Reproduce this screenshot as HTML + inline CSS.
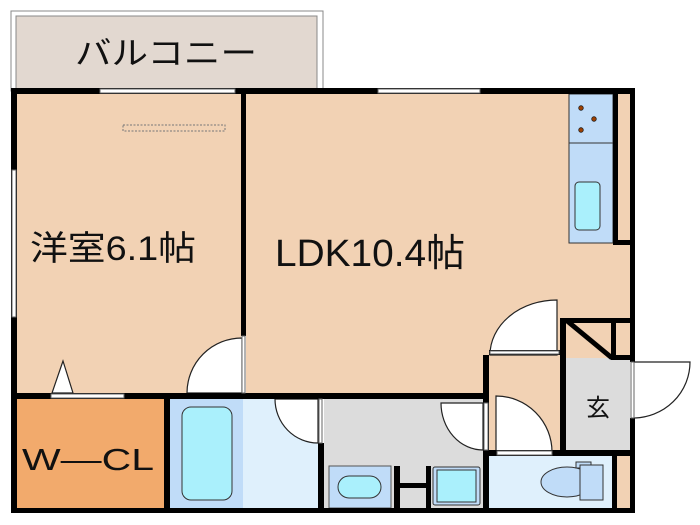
<!DOCTYPE html>
<html><head><meta charset="utf-8"><style>
html,body{margin:0;padding:0;background:#fff;width:700px;height:525px;overflow:hidden}
text{font-family:"Liberation Sans","Noto Sans CJK JP",sans-serif;fill:#111}
</style></head><body>
<svg width="700" height="525" viewBox="0 0 700 525" xmlns="http://www.w3.org/2000/svg">
<!-- balcony -->
<rect x="11" y="11" width="312" height="80" fill="#fff" stroke="#888" stroke-width="1"/>
<rect x="16" y="16" width="301" height="74" fill="#e2d8d0" stroke="#888" stroke-width="1"/>
<text x="75" y="64" font-size="32" textLength="182" lengthAdjust="spacingAndGlyphs">バルコニー</text>
<!-- room fills -->
<rect x="17" y="94" width="224" height="299" fill="#f2d2b4"/>
<rect x="246" y="94" width="384" height="299" fill="#f2d2b4"/>
<rect x="488" y="355" width="72" height="100" fill="#f2d2b4"/>
<rect x="565" y="323" width="65" height="35" fill="#f2d2b4"/>
<rect x="565" y="358" width="65" height="92" fill="#dcdcdc"/>
<rect x="617" y="456" width="13" height="52" fill="#f2d2b4"/>
<rect x="17" y="399" width="147" height="109" fill="#f2aa6c"/>
<rect x="170" y="399" width="73" height="109" fill="#c0dcf8"/>
<rect x="243" y="399" width="75" height="109" fill="#dff0fc"/>
<rect x="324" y="399" width="159" height="109" fill="#dcdcdc"/>
<rect x="488" y="456" width="124" height="52" fill="#dff0fc"/>
<!-- kitchen -->
<rect x="569" y="94" width="44" height="149" fill="#c0dcf8" stroke="#333" stroke-width="1"/>
<line x1="569" y1="143" x2="613" y2="143" stroke="#333" stroke-width="1"/>
<circle cx="581" cy="108" r="2.3" fill="#a04000" stroke="#222" stroke-width="0.8"/>
<circle cx="594" cy="119" r="2.3" fill="#a04000" stroke="#222" stroke-width="0.8"/>
<circle cx="581" cy="130" r="2.3" fill="#a04000" stroke="#222" stroke-width="0.8"/>
<rect x="575" y="182" width="25" height="48" rx="4" fill="#aaf0fc" stroke="#333" stroke-width="1"/>
<!-- bath/wash fixtures -->
<rect x="182" y="407" width="50" height="93" rx="9" fill="#aaf0fc" stroke="#333" stroke-width="1"/>
<rect x="329" y="466" width="62" height="42" fill="#c0dcf8" stroke="#555" stroke-width="1"/>
<rect x="338" y="476" width="43" height="22" rx="11" fill="#aaf0fc" stroke="#333" stroke-width="1"/>
<rect x="394" y="466" width="6" height="42" fill="#000"/>
<rect x="426" y="466" width="5" height="42" fill="#000"/>
<rect x="400" y="483" width="26" height="5" fill="#000"/>
<rect x="433" y="467" width="47" height="38" rx="2" fill="#c0dcf8" stroke="#333" stroke-width="1"/>
<rect x="437" y="470" width="39" height="32" fill="#aaf0fc" stroke="#333" stroke-width="1"/>
<!-- toilet -->
<ellipse cx="567" cy="482" rx="26" ry="15" fill="#c0dcf8" stroke="#333" stroke-width="1"/>
<rect x="576" y="462" width="15" height="6" fill="#c0dcf8" stroke="#333" stroke-width="1"/>
<rect x="580" y="465" width="23" height="35" fill="#c0dcf8" stroke="#333" stroke-width="1"/>
<!-- doors -->
<g fill="#fff" stroke="#222" stroke-width="1.2">
<path d="M242 393 L242 338 A55 55 0 0 0 187 393 Z"/>
<path d="M318 399 L275 399 A43 44 0 0 0 318 443 Z"/>
<path d="M483 403 L441 403 A42 47 0 0 0 483 450 Z"/>
<path d="M557 355 L557 300 A67 55 0 0 0 490 355 Z"/>
<path d="M496 452 L496 396 A56 56 0 0 1 552 452 Z"/>
<path d="M633 362 L690 362 A57 56 0 0 1 633 418 Z"/>
<polygon points="63,361 52,393 73,393"/>
</g>
<rect x="123" y="125" width="102" height="6" fill="none" stroke="#777" stroke-width="1" stroke-dasharray="2,1.5"/>
<!-- walls -->
<g fill="#000">
<rect x="11" y="88" width="624" height="6"/>
<rect x="11" y="88" width="6" height="425"/>
<rect x="241" y="88" width="5" height="248"/>
<rect x="11" y="393" width="477" height="6"/>
<rect x="483" y="355" width="6" height="158"/>
<rect x="11" y="508" width="624" height="5"/>
<rect x="164" y="399" width="6" height="109"/>
<rect x="318" y="443" width="6" height="65"/>
<rect x="560" y="318" width="6" height="138"/>
<rect x="560" y="318" width="75" height="5"/>
<rect x="611" y="318" width="5" height="42"/>
<rect x="611" y="355" width="24" height="5"/>
<rect x="483" y="450" width="152" height="6"/>
<rect x="612" y="450" width="5" height="63"/>
<rect x="613" y="88" width="5" height="157"/>
<rect x="613" y="240" width="22" height="5"/>
<rect x="630" y="88" width="5" height="274"/>
<rect x="630" y="418" width="5" height="95"/>
<rect x="489" y="350" width="71" height="5"/>
</g>
<line x1="566" y1="320" x2="612" y2="358" stroke="#000" stroke-width="5"/>
<!-- windows / openings -->
<g fill="#fff" stroke="#666" stroke-width="1">
<rect x="100" y="89" width="135" height="4"/>
<rect x="378" y="89" width="102" height="4"/>
<rect x="12" y="170" width="4" height="147"/>
<rect x="51" y="394" width="73" height="4"/>
<rect x="490" y="351" width="69" height="3"/>
<rect x="497" y="451" width="55" height="4"/>
<rect x="242" y="336" width="3" height="57"/>
<rect x="319" y="399" width="3" height="44"/>
<rect x="484" y="403" width="4" height="47"/>
<rect x="631" y="362" width="3" height="56"/>
</g>
<!-- labels -->
<text x="30" y="260" font-size="34" textLength="166" lengthAdjust="spacingAndGlyphs">洋室6.1帖</text>
<text x="275" y="266" font-size="38" textLength="190" lengthAdjust="spacingAndGlyphs">LDK10.4帖</text>
<text x="22" y="470" font-size="31" textLength="132" lengthAdjust="spacingAndGlyphs">W—CL</text>
<text x="586" y="416" font-size="24">玄</text>
</svg>
</body></html>
